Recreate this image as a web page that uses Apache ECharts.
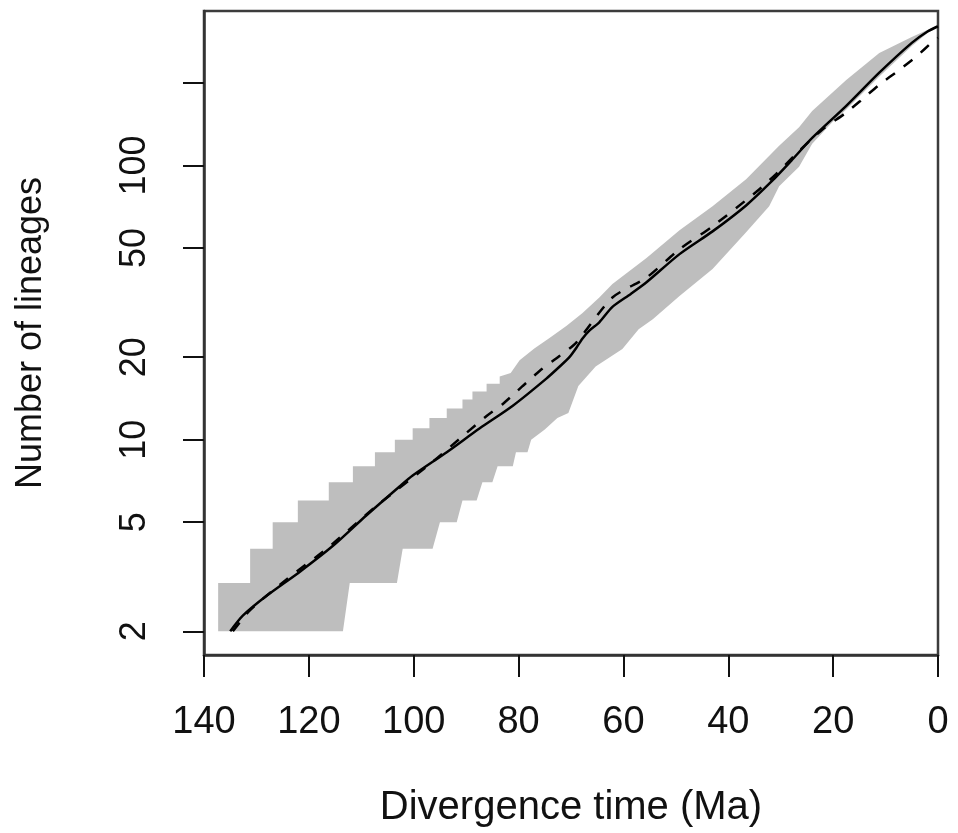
<!DOCTYPE html>
<html>
<head>
<meta charset="utf-8">
<script src="https://cdn.jsdelivr.net/npm/echarts@6/dist/echarts.min.js"></script>
<style>
  html, body { margin: 0; padding: 0; background: #ffffff; }
  #chart { width: 958px; height: 833px; }
</style>
</head>
<body>
<div id="chart"></div>
<script>
// ---- data ----
const xTicks = [0, 20, 40, 60, 80, 100, 120, 140];
const yTickValues = [2, 5, 10, 20, 50, 100, 200];
const yLabelValues = [2, 5, 10, 20, 50, 100];

// observed lineages-through-time curve (solid)
const solidTime = [135.0, 132.6, 128.0, 121.7, 115.4, 109.0, 102.7, 100.2, 93.7, 87.4, 81.1, 74.7, 72.0, 70.3, 69.0, 67.8, 66.5, 64.6, 62.1, 58.6, 55.6, 49.3, 43.0, 36.6, 31.6, 28.0, 24.0, 17.5, 11.2, 5.0, 2.0, 0.0];
const solidN    = [2.0, 2.28, 2.7, 3.3, 4.1, 5.3, 6.75, 7.4, 9.0, 11.0, 13.3, 16.7, 18.6, 20.0, 21.6, 23.4, 25.0, 26.8, 30.5, 34.0, 37.5, 47.5, 57.5, 71.5, 88, 104, 126, 165, 218, 280, 308, 322];

// expected curve (dashed)
const dashedTime = [134.5, 131.2, 124.2, 116.6, 107.0, 96.4, 89.9, 86.1, 83.0, 79.2, 76.0, 72.2, 69.0, 62.1, 55.6, 49.3, 43.0, 34.7, 30.9, 26.5, 22.1, 17.5, 14.5, 11.2, 7.4, 4.2, 1.1, 0.0];
const dashedN    = [2.0, 2.39, 3.1, 4.0, 5.75, 8.3, 10.6, 12.2, 13.5, 15.7, 17.8, 20.2, 22.6, 33, 39, 49.5, 60, 80, 93, 113, 135, 156, 174, 197, 223, 249, 282, 292];

// confidence band, upper edge
const upperTime = [137.3, 131.2, 131.2, 126.9, 126.9, 122.1, 122.1, 116.2, 116.2, 111.6, 111.6, 107.4, 107.4, 103.6, 103.6, 100.2, 100.2, 97.0, 97.0, 93.7, 93.7, 90.7, 90.7, 88.8, 88.8, 86.1, 86.1, 83.6, 83.6, 81.5, 79.8, 77.0, 74.1, 70.9, 67.8, 64.6, 62.1, 55.6, 49.3, 43.0, 36.6, 30.3, 26.5, 24.0, 17.5, 11.2, 5.0, 1.1, 0.0];
const upperN    = [3, 3, 4, 4, 5, 5, 6, 6, 7, 7, 8, 8, 9, 9, 10, 10, 11, 11, 12, 12, 13, 13, 14, 14, 15, 15, 16, 16, 17, 17.5, 19.5, 21.5, 23.5, 26, 29, 33, 37, 46, 58, 71, 89, 118, 138, 158, 205, 257, 294, 318, 324];

// confidence band, lower edge
const lowerTime = [137.3, 113.5, 112.2, 103.2, 102.1, 96.4, 95.0, 91.8, 90.7, 88.0, 86.9, 85.0, 84.0, 81.1, 80.5, 78.3, 77.6, 75.0, 72.6, 70.5, 68.6, 65.3, 60.2, 57.1, 54.4, 49.3, 43.0, 36.6, 32.2, 30.3, 26.5, 24.0, 20.0, 17.5, 11.2, 5.0, 2.0, 0.0];
const lowerN    = [2, 2, 3, 3, 4, 4, 5, 5, 6, 6, 7, 7, 8, 8, 9, 9, 10, 10.9, 12, 12.5, 15.7, 18.5, 21.4, 25.3, 27.5, 33.4, 41.9, 57.1, 71, 84, 99, 120, 145, 160, 211, 273, 304, 322];

const pairs = (t, n) => t.map((v, i) => [v, n[i]]);

const FONT = 'Liberation Sans';
const chart = echarts.init(document.getElementById('chart'), null, { renderer: 'canvas' });

chart.setOption({
  animation: false,
  backgroundColor: '#ffffff',
  grid: {
    left: 204, right: 20, top: 11, bottom: 176,
    show: true, borderColor: '#3c3c3c', borderWidth: 2.5, backgroundColor: 'transparent'
  },
  xAxis: {
    type: 'value', inverse: true, min: 0, max: 140, interval: 20,
    axisLine: { show: true, onZero: false, lineStyle: { color: '#333', width: 2.5 } },
    axisTick: { show: true, length: 22, lineStyle: { color: '#111', width: 2 } },
    axisLabel: {
      fontSize: 38, fontFamily: FONT, color: '#111', margin: 49,
      customValues: xTicks
    },
    splitLine: { show: false },
    name: 'Divergence time (Ma)', nameLocation: 'middle', nameGap: 133,
    nameTextStyle: { fontSize: 40, fontFamily: FONT, color: '#111' }
  },
  yAxis: {
    type: 'log', logBase: 10, min: 1.639, max: 366,
    axisLine: { show: true, onZero: false, lineStyle: { color: '#333', width: 2.5 } },
    axisTick: { show: true, length: 21, lineStyle: { color: '#111', width: 2 }, customValues: yTickValues },
    axisLabel: {
      fontSize: 36, fontFamily: FONT, color: '#111', rotate: 90, margin: 51,
      customValues: yLabelValues,
      formatter: v => String(Math.round(v))
    },
    splitLine: { show: false },
    minorTick: { show: false },
    name: 'Number of lineages', nameLocation: 'middle', nameGap: 155,
    nameTextStyle: { fontSize: 36, fontFamily: FONT, color: '#111' }
  },
  series: [
    {
      type: 'custom', name: 'band', coordinateSystem: 'cartesian2d',
      data: [[upperTime[0], upperN[0]]], clip: true, silent: true, z: 1,
      renderItem: function (params, api) {
        const pts = [];
        for (let i = 0; i < upperTime.length; i++) pts.push(api.coord([upperTime[i], upperN[i]]));
        for (let i = lowerTime.length - 1; i >= 0; i--) pts.push(api.coord([lowerTime[i], lowerN[i]]));
        return { type: 'polygon', shape: { points: pts }, style: { fill: '#bebebe', stroke: null } };
      }
    },
    {
      type: 'line', name: 'observed', data: pairs(solidTime, solidN),
      showSymbol: false, smooth: 0.25, z: 3, silent: true,
      lineStyle: { color: '#000', width: 2.5 }
    },
    {
      type: 'line', name: 'expected', data: pairs(dashedTime, dashedN),
      showSymbol: false, smooth: 0.25, z: 2, silent: true,
      lineStyle: { color: '#000', width: 2.5, type: [11, 11] }
    }
  ]
});
</script>
</body>
</html>
